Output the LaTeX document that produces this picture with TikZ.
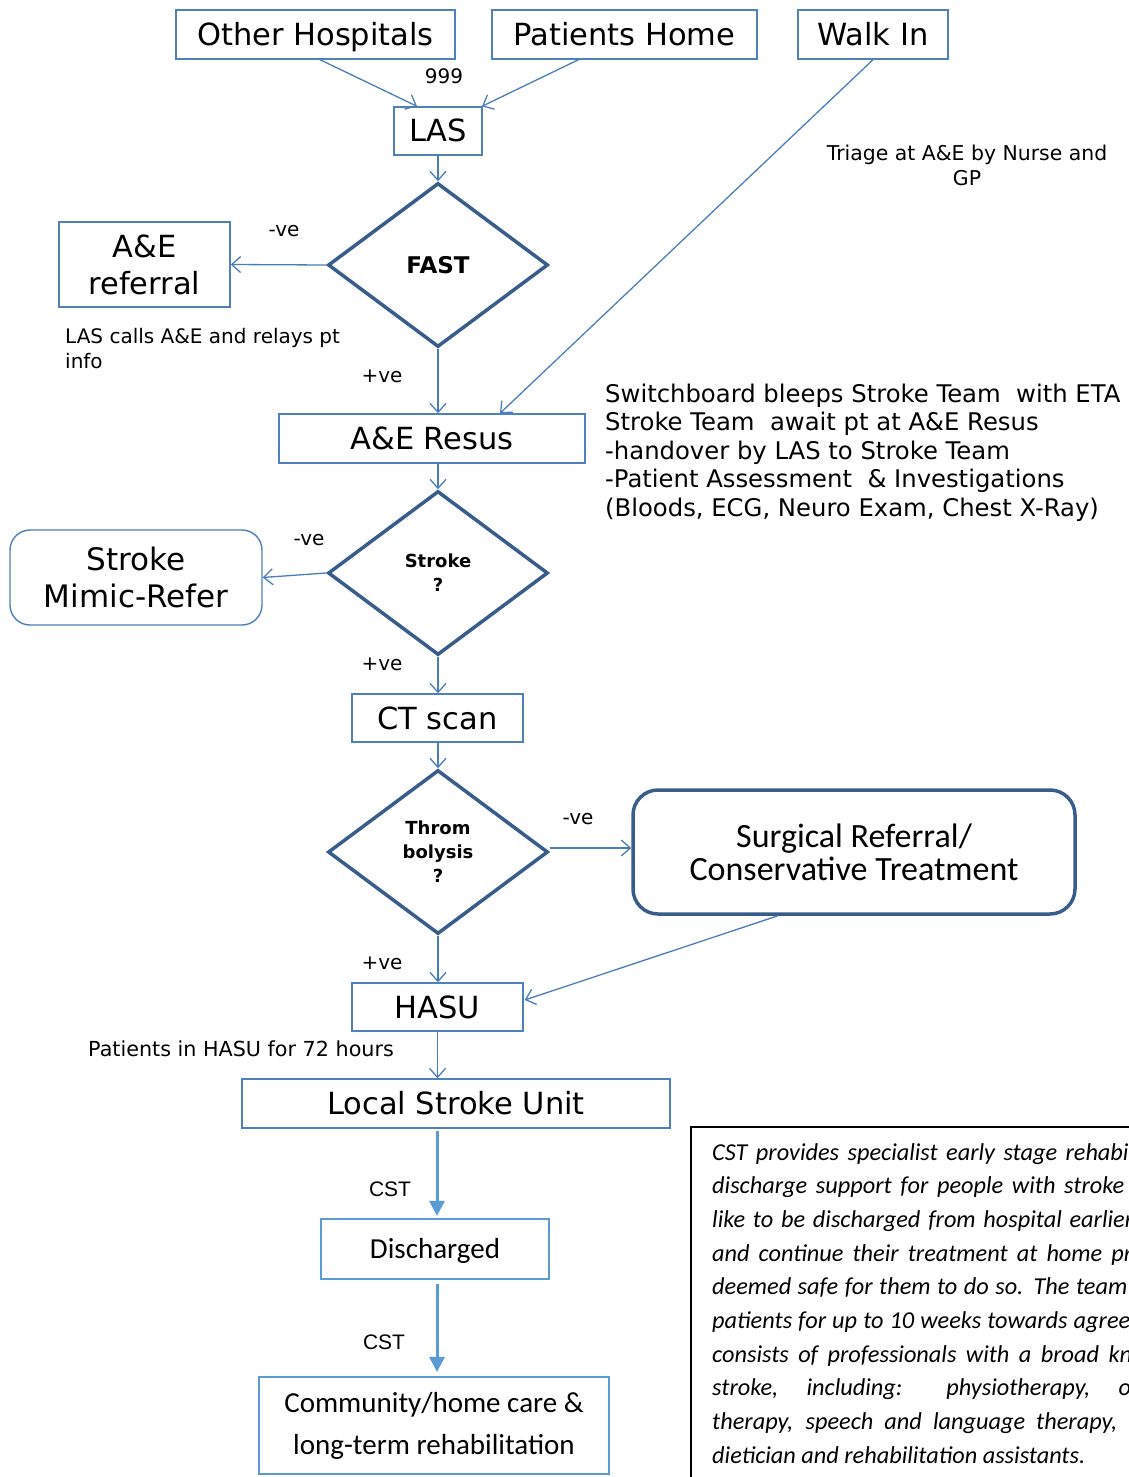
\documentclass[tikz,border=0pt]{standalone}
\usepackage{fontspec}
\setmainfont{DejaVu Sans}
\newfontfamily\calib{Carlito}
\newfontfamily\arialf{Liberation Sans}
\usetikzlibrary{shapes.geometric,arrows.meta,calc}

\definecolor{boxblue}{HTML}{4F81BD}
\definecolor{darkblue}{HTML}{385D8A}
\definecolor{arrowblue}{HTML}{4A7EBB}
\definecolor{lightblue}{HTML}{5B9BD5}

\newcommand\fsz[2]{\fontsize{#1}{#2}\selectfont}

\begin{document}
\begin{tikzpicture}[x=1pt,y=-1pt,
  stepbox/.style={draw=boxblue, line width=1.4pt, inner sep=0pt, align=center, font=\fsz{30.5}{37}},
  oneline/.style={text height=28pt, text depth=6pt},
  decision/.style={diamond, draw=darkblue, line width=3.5pt, minimum width=220pt, minimum height=164pt, inner sep=0pt, align=center, font=\bfseries\fsz{18}{24}},
  flow/.style={draw=arrowblue, line width=1.3pt, -{Straight Barb[length=9pt,width=16pt]}},
  bigflow/.style={draw=lightblue, line width=3pt, -{Triangle[length=15pt,width=15pt]}},
  note/.style={inner sep=0pt, font=\fsz{20}{25}},
  cstline/.style={inner sep=0pt, anchor=base west, font=\calib\itshape\fsz{24.3}{30}},
]
\useasboundingbox (0,0) rectangle (1129,1477);
\fill[white] (0,0) rectangle (1129,1477);

% sources
\node[stepbox, oneline, minimum width=279pt, minimum height=49pt] (oh) at (315.5,34.5) {Other Hospitals};
\node[stepbox, oneline, minimum width=265pt, minimum height=49pt] (ph) at (624.5,34.5) {Patients Home};
\node[stepbox, oneline, minimum width=150pt, minimum height=49pt] (wi) at (873,34.5) {Walk In};
\node[stepbox, oneline, minimum width=88pt, minimum height=48pt] (las) at (438,131) {LAS};
\node[note] (n999) at (444,76) {999};
\node[note, align=center, font=\fsz{20.4}{25}] (triage) at (967,165.5) {Triage at A\&E by Nurse and\\GP};

% FAST decision
\node[decision, font=\bfseries\fsz{23}{28}] (fast) at (438,265) {FAST};
\node[stepbox, minimum width=171pt, minimum height=85pt] (aer) at (144.5,264.5) {A\&E\\referral};
\node[note] (neg1) at (284,231) {-ve};
\node[note, align=left, anchor=west] (lascall) at (65,348.5) {LAS calls A\&E and relays pt\\info};
\node[note] (pos1) at (382,376) {+ve};

% resus
\node[stepbox, oneline, minimum width=306pt, minimum height=49pt] (resus) at (432,438.5) {A\&E Resus};
\node[inner sep=0pt, anchor=west, align=left, font=\fsz{24.3}{28.6}] (team) at (605,452.5)
  {Switchboard bleeps Stroke Team\ \ with ETA\\
   Stroke Team\ \ await pt at A\&E Resus\\
   -handover by LAS to Stroke Team\\
   -Patient Assessment\ \ \& Investigations\\
   (Bloods, ECG, Neuro Exam, Chest X-Ray)};

% stroke decision
\node[decision] (stroke) at (438,573) {Stroke\\?};
\node[stepbox, rounded corners=20pt, minimum width=252pt, minimum height=95pt, font=\fsz{31}{37}] (mimic) at (136,577.5) {Stroke\\Mimic-Refer};
\node[note] (neg2) at (309,540) {-ve};
\node[note] (pos2) at (382,664) {+ve};

% CT and thrombolysis
\node[stepbox, oneline, minimum width=171pt, minimum height=48pt] (ct) at (437.5,718) {CT scan};
\node[decision] (throm) at (438,852) {Throm\\bolysis\\?};
\node[note] (neg3) at (578,819) {-ve};
\node[draw=darkblue, line width=3.5pt, rounded corners=25pt, minimum width=442pt, minimum height=124pt,
      inner sep=0pt, align=center, font=\calib\fsz{34}{33}] (surg) at (854,852)
  {Surgical Referral/\\Conservative Treatment};
\node[note] (pos3) at (382,963) {+ve};

% stroke units
\node[stepbox, oneline, minimum width=171pt, minimum height=48pt] (hasu) at (437.5,1007) {HASU};
\node[note, anchor=west, font=\fsz{20.7}{25}] (hasunote) at (88,1049) {Patients in HASU for 72 hours};
\node[stepbox, oneline, minimum width=428pt, minimum height=49pt] (lsu) at (456,1103.5) {Local Stroke Unit};

% discharge
\node[draw=lightblue, line width=2.2pt, minimum width=228pt, minimum height=60pt, inner sep=0pt,
      text height=25pt, text depth=6pt, font=\calib\fsz{29}{35}] (dis) at (435,1249) {Discharged};
\node[draw=lightblue, line width=2.2pt, minimum width=350pt, minimum height=97pt, inner sep=0pt,
      align=center, font=\calib\fsz{29}{42}] (comm) at (434,1425.5) {Community/home care \&\\long-term rehabilitation};
\node[inner sep=0pt, font=\arialf\fsz{21}{25}] (cst1) at (390,1189) {CST};
\node[inner sep=0pt, font=\arialf\fsz{21}{25}] (cst2) at (384,1342) {CST};

% connectors
\draw[flow] ($(oh.south)+(4.5,0)$) -- ($(las.north)+(-21,0)$);
\draw[flow] ($(ph.south)+(-46,0)$) -- ($(las.north)+(44,0)$);
\draw[flow] (wi.south) -- ($(resus.north)+(68,0)$);
\draw[flow] (las.south) -- (fast.north);
\draw[flow] (fast.west) -- (aer.east);
\draw[flow] (fast.south) -- (fast.south |- resus.north);
\draw[flow] (stroke.north |- resus.south) -- (stroke.north);
\draw[flow] (stroke.west) -- (mimic.east);
\draw[flow] (stroke.south) -- (stroke.south |- ct.north);
\draw[flow] (throm.north |- ct.south) -- (throm.north);
\draw[flow] ($(throm.east)+(0,-4)$) -- ($(surg.west)+(0,-4)$);
\draw[flow] (throm.south) -- (throm.south |- hasu.north);
\draw[flow] ($(surg.south)+(-76,0)$) -- ($(hasu.east)+(1,-7)$);
\draw[flow] (hasu.south) -- (hasu.south |- lsu.north);
\draw[bigflow] ($(dis.north |- lsu.south)+(2,2)$) -- ($(dis.north)+(2,-2)$);
\draw[bigflow] ($(dis.south)+(2,4)$) -- ($(comm.north)+(3,-4)$);

% community stroke team note
\begin{scope}
\clip (0,0) rectangle (1129,1477);
\draw[line width=1.5pt] (691,1127) rectangle (1145,1495);
\node[cstline] (c1) at (712,1160.0) {\makebox[422pt][s]{CST provides specialist early stage rehabil}};
\node[cstline] (c2) at (712,1193.7) {\makebox[412pt][s]{discharge support for people with stroke}};
\node[cstline] (c3) at (712,1227.4) {\makebox[421pt][s]{like to be discharged from hospital earlier}};
\node[cstline] (c4) at (712,1261.1) {\makebox[420pt][s]{and continue their treatment at home pr}};
\node[cstline] (c5) at (712,1294.8) {\makebox[415pt][s]{deemed safe for them to do so. The team}};
\node[cstline] (c6) at (712,1328.5) {\makebox[418pt][s]{patients for up to 10 weeks towards agree}};
\node[cstline] (c7) at (712,1362.2) {\makebox[420pt][s]{consists of professionals with a broad kn}};
\node[cstline] (c8) at (712,1395.9) {\makebox[419pt][s]{stroke, including: physiotherapy, o}};
\node[cstline] (c9) at (712,1429.6) {\makebox[405pt][s]{therapy, speech and language therapy,}};
\node[cstline] (c10) at (712,1463.3) {dietician and rehabilitation assistants.};
\end{scope}
\end{tikzpicture}
\end{document}
